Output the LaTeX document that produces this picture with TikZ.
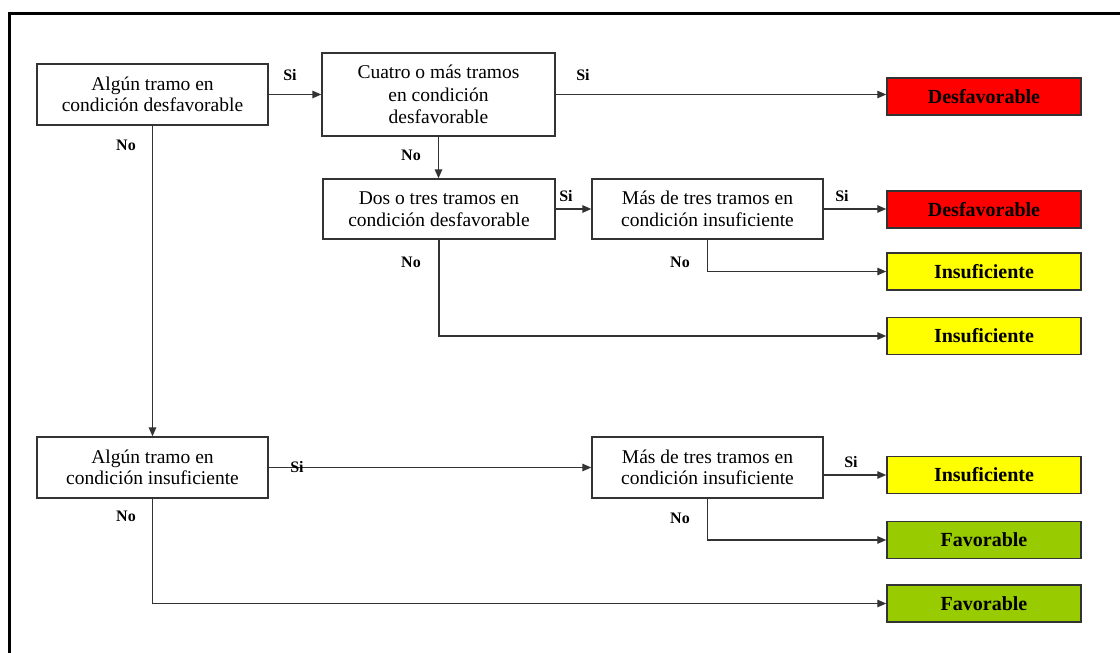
\documentclass[tikz,border=0pt]{standalone}
\usepackage{fontspec}
\setmainfont{Liberation Serif}
\usetikzlibrary{arrows.meta}
\definecolor{lc}{HTML}{333333}
\definecolor{rred}{HTML}{FF0000}
\definecolor{ryel}{HTML}{FFFF00}
\definecolor{rgrn}{HTML}{99CC00}
\begin{document}
\begin{tikzpicture}[x=1pt,y=-1pt,
  dec/.style={draw=lc, line width=1.4pt, fill=white, align=center, inner sep=0pt,
    minimum width=231pt, minimum height=61pt, font=\fontsize{19.5}{21.5}\selectfont},
  res/.style={draw=lc, line width=1.5pt, inner sep=0pt, minimum width=194pt,
    minimum height=37pt, font=\fontsize{20}{22}\selectfont\bfseries},
  arr/.style={draw=lc, line width=1.4pt, -{Triangle[length=9pt,width=7.5pt]}},
  lbl/.style={font=\fontsize{16}{18}\selectfont\bfseries, inner sep=0pt}]
\useasboundingbox (0,0) rectangle (1120,653);
\fill[white] (0,0) rectangle (1120,653);
\draw[line width=3pt] (9,653) -- (9,13) -- (1120,13);

\node[dec] (A) at (152.5,94.5) {Algún tramo en\\condición desfavorable};
\node[dec, minimum width=233pt, minimum height=83pt, font=\fontsize{19.5}{22.5}\selectfont] (B) at (438.5,94.5) {Cuatro o más tramos\\en condición\\desfavorable};
\node[dec, minimum width=232pt, minimum height=60pt] (C) at (439,209) {Dos o tres tramos en\\condición desfavorable};
\node[dec, minimum height=60pt] (D) at (707.5,209) {Más de tres tramos en\\condición insuficiente};
\node[dec] (E) at (152.5,467.5) {Algún tramo en\\condición insuficiente};
\node[dec] (F) at (707.5,467.5) {Más de tres tramos en\\condición insuficiente};

\node[res, fill=rred] (R1) at (984,96.5) {Desfavorable};
\node[res, fill=rred] (R2) at (984,209.5) {Desfavorable};
\node[res, fill=ryel] (R3) at (984,271.5) {Insuficiente};
\node[res, fill=ryel] (R4) at (984,336) {Insuficiente};
\node[res, fill=ryel] (R5) at (984,475) {Insuficiente};
\node[res, fill=rgrn] (R6) at (984,540) {Favorable};
\node[res, fill=rgrn] (R7) at (984,603.5) {Favorable};

\draw[arr] (A.east) -- (B.west);
\draw[arr] (B.east) -- (B.east -| R1.west);
\draw[arr] (B.south) -- (B.south |- C.north);
\draw[arr] (C.east) -- (D.west);
\draw[arr] (D.east) -- (D.east -| R2.west);
\draw[arr] (D.south) |- (R3.west);
\draw[arr] (C.south) |- (R4.west);
\draw[arr] (A.south) -- (E.north);
\draw[arr] (E.east) -- (F.west);
\draw[arr] (R5.west -| F.east) -- (R5.west);
\draw[arr] (F.south) |- (R6.west);
\draw[arr] (E.south) |- (R7.west);

\node[lbl] (s1) at (290,75) {Si};
\node[lbl] (s2) at (583,75) {Si};
\node[lbl] (s3) at (566,196) {Si};
\node[lbl] (s4) at (842,196) {Si};
\node[lbl] (s5) at (851,462) {Si};
\node[lbl] (s6) at (297,467) {Si};
\node[lbl] (n1) at (126,145) {No};
\node[lbl] (n2) at (411,155) {No};
\node[lbl] (n3) at (411,262) {No};
\node[lbl] (n4) at (680,262) {No};
\node[lbl] (n5) at (126,516) {No};
\node[lbl] (n6) at (680,518) {No};
\end{tikzpicture}
\end{document}
